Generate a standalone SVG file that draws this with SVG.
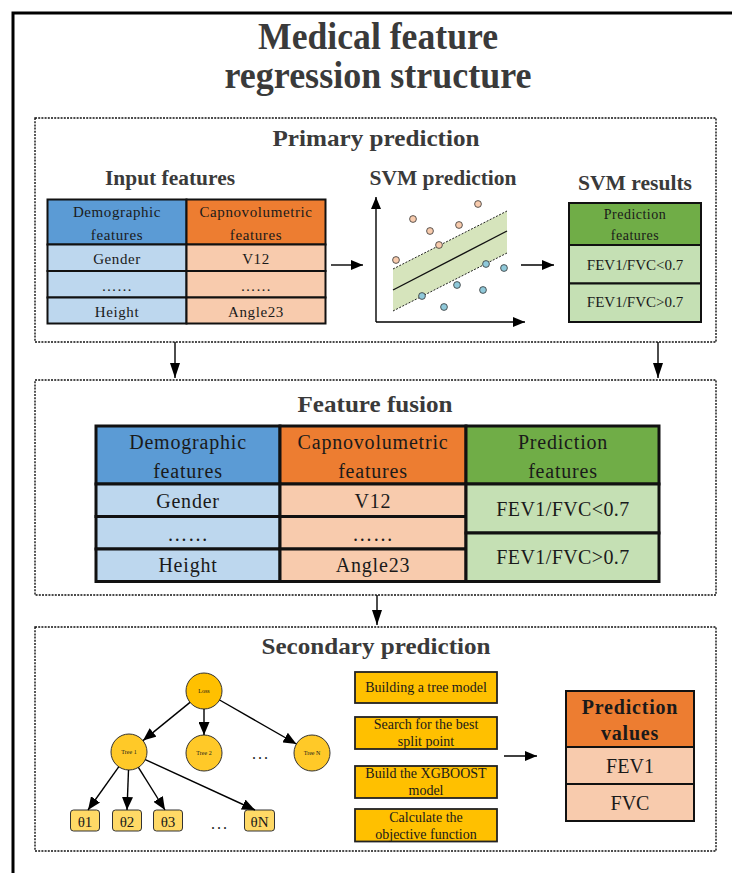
<svg xmlns="http://www.w3.org/2000/svg" width="732" height="873" viewBox="0 0 732 873">
<style>
text{font-family:"Liberation Serif","Times New Roman",serif;fill:#1a1a1a}
.title{font-weight:bold;fill:#3a3a3a;text-anchor:middle}
.sec{fill:none;stroke:#111;stroke-width:1.4;stroke-dasharray:2 1.2}
.c{text-anchor:middle}
.t1{font-size:15px;letter-spacing:0.6px}
.t2{font-size:20px;letter-spacing:0.8px}
.cell{stroke:#111;stroke-width:2}
.cellb{stroke:#111;stroke-width:3}
.ln{stroke:#000;stroke-width:1.4;fill:none}
.step{fill:#FFC000;stroke:#222;stroke-width:1.8}
.th{fill:#FFD966;stroke:#333;stroke-width:1}
.node{stroke:#333;stroke-width:1}
</style>
<defs>
<marker id="ah" markerUnits="userSpaceOnUse" markerWidth="12" markerHeight="10" refX="12" refY="5" orient="auto"><path d="M0,0 L12,5 L0,10 z" fill="#000"/></marker>
<marker id="ahv" markerUnits="userSpaceOnUse" markerWidth="15" markerHeight="10" refX="15" refY="5" orient="auto"><path d="M0,0 L15,5 L0,10 z" fill="#000"/></marker>
<marker id="aht" markerUnits="userSpaceOnUse" markerWidth="13" markerHeight="11" refX="13" refY="5.5" orient="auto"><path d="M0,0 L13,5.5 L0,11 z" fill="#000"/></marker>
</defs>
<rect width="732" height="873" fill="#fff"/>
<rect x="13" y="13" width="740" height="880" fill="none" stroke="#000" stroke-width="3"/>

<g id="title">
<text class="title" x="378" y="49" font-size="37" textLength="240" lengthAdjust="spacingAndGlyphs">Medical feature</text>
<text class="title" x="378" y="88" font-size="37" textLength="307" lengthAdjust="spacingAndGlyphs">regression structure</text>
</g>

<g id="primary">
<rect class="sec" x="35" y="118" width="681" height="224"/>
<text class="title" x="376" y="146" font-size="24" textLength="207" lengthAdjust="spacingAndGlyphs">Primary prediction</text>
</g>

<g id="input-features">
<text class="title" x="170" y="185" font-size="20" textLength="130" lengthAdjust="spacingAndGlyphs">Input features</text>
<rect class="cell" x="47.5" y="199.5" width="139" height="45" fill="#5B9BD5"/>
<rect class="cell" x="186.5" y="199.5" width="139" height="45" fill="#ED7D31"/>
<rect class="cell" x="47.5" y="244.5" width="139" height="26.5" fill="#BDD7EE"/>
<rect class="cell" x="47.5" y="271" width="139" height="26.5" fill="#BDD7EE"/>
<rect class="cell" x="47.5" y="297.5" width="139" height="26" fill="#BDD7EE"/>
<rect class="cell" x="186.5" y="244.5" width="139" height="26.5" fill="#F8CBAD"/>
<rect class="cell" x="186.5" y="271" width="139" height="26.5" fill="#F8CBAD"/>
<rect class="cell" x="186.5" y="297.5" width="139" height="26" fill="#F8CBAD"/>
<text class="c t1" x="117" y="217">Demographic</text>
<text class="c t1" x="117" y="240">features</text>
<text class="c t1" x="256" y="217">Capnovolumetric</text>
<text class="c t1" x="256" y="240">features</text>
<text class="c t1" x="117" y="264">Gender</text>
<text class="c t1" x="117" y="291">……</text>
<text class="c t1" x="117" y="317">Height</text>
<text class="c t1" x="256" y="264">V12</text>
<text class="c t1" x="256" y="291">……</text>
<text class="c t1" x="256" y="317">Angle23</text>
</g>

<g id="svm-prediction">
<text class="title" x="443" y="185" font-size="20" textLength="147" lengthAdjust="spacingAndGlyphs">SVM prediction</text>
<polygon points="393,269 507,211 507,253 393,311" fill="#D6E4BC"/>
<line x1="393" y1="269" x2="507" y2="211" stroke="#222" stroke-width="1" stroke-dasharray="2 1.5"/>
<line x1="393" y1="311" x2="507" y2="253" stroke="#222" stroke-width="1" stroke-dasharray="2 1.5"/>
<line x1="393" y1="290" x2="507" y2="231" stroke="#111" stroke-width="1.4"/>
<line x1="376" y1="322" x2="376" y2="197" stroke="#000" stroke-width="1.4" marker-end="url(#ah)"/>
<line x1="376" y1="322" x2="525" y2="322" stroke="#000" stroke-width="1.4" marker-end="url(#ah)"/>
<g fill="#F8CBAD" stroke="#333" stroke-width="0.8">
<circle cx="413" cy="219" r="3.4"/><circle cx="430" cy="231" r="3.4"/><circle cx="459" cy="225" r="3.4"/>
<circle cx="478" cy="204" r="3.4"/><circle cx="439" cy="245" r="3.4"/><circle cx="396" cy="260" r="3.4"/>
</g>
<g fill="#8FC9DA" stroke="#333" stroke-width="0.8">
<circle cx="486" cy="264" r="3.4"/><circle cx="504" cy="268" r="3.4"/><circle cx="457" cy="285" r="3.4"/>
<circle cx="483" cy="290" r="3.4"/><circle cx="422" cy="296" r="3.4"/><circle cx="444" cy="307" r="3.4"/>
</g>
</g>

<g id="svm-results">
<text class="title" x="635" y="190" font-size="20" textLength="114" lengthAdjust="spacingAndGlyphs">SVM results</text>
<rect class="cell" x="569" y="203" width="132" height="42" fill="#70AD47"/>
<rect class="cell" x="569" y="245" width="132" height="38.5" fill="#C5E0B4"/>
<rect class="cell" x="569" y="283.5" width="132" height="38.5" fill="#C5E0B4"/>
<text class="c" x="635" y="219" font-size="14" letter-spacing="0.5">Prediction</text>
<text class="c" x="635" y="240" font-size="14" letter-spacing="0.5">features</text>
<text class="c" x="635" y="270" font-size="15">FEV1/FVC&lt;0.7</text>
<text class="c" x="635" y="307" font-size="15">FEV1/FVC&gt;0.7</text>
</g>

<g id="fusion">
<rect class="sec" x="35" y="380" width="681" height="215"/>
<text class="title" x="375" y="412" font-size="24" textLength="155" lengthAdjust="spacingAndGlyphs">Feature fusion</text>
</g>

<g id="fusion-table">
<rect class="cellb" x="96" y="426" width="184" height="58" fill="#5B9BD5"/>
<rect class="cellb" x="280" y="426" width="186" height="58" fill="#ED7D31"/>
<rect class="cellb" x="466" y="426" width="193" height="58" fill="#70AD47"/>
<rect class="cellb" x="96" y="484" width="184" height="32.5" fill="#BDD7EE"/>
<rect class="cellb" x="96" y="516.5" width="184" height="32.5" fill="#BDD7EE"/>
<rect class="cellb" x="96" y="549" width="184" height="32.5" fill="#BDD7EE"/>
<rect class="cellb" x="280" y="484" width="186" height="32.5" fill="#F8CBAD"/>
<rect class="cellb" x="280" y="516.5" width="186" height="32.5" fill="#F8CBAD"/>
<rect class="cellb" x="280" y="549" width="186" height="32.5" fill="#F8CBAD"/>
<rect class="cellb" x="466" y="484" width="193" height="49" fill="#C5E0B4"/>
<rect class="cellb" x="466" y="533" width="193" height="48.5" fill="#C5E0B4"/>
<text class="c t2" x="188" y="449">Demographic</text>
<text class="c t2" x="188" y="478">features</text>
<text class="c t2" x="373" y="449">Capnovolumetric</text>
<text class="c t2" x="373" y="478">features</text>
<text class="c t2" x="563" y="449">Prediction</text>
<text class="c t2" x="563" y="478">features</text>
<text class="c t2" x="188" y="508">Gender</text>
<text class="c t2" x="188" y="541">……</text>
<text class="c t2" x="188" y="572">Height</text>
<text class="c t2" x="373" y="508">V12</text>
<text class="c t2" x="373" y="541">……</text>
<text class="c t2" x="373" y="572">Angle23</text>
<text class="c" x="563" y="516" font-size="20" letter-spacing="0.4">FEV1/FVC&lt;0.7</text>
<text class="c" x="563" y="564" font-size="20" letter-spacing="0.4">FEV1/FVC&gt;0.7</text>
</g>

<g id="secondary">
<rect class="sec" x="35" y="627" width="681" height="224"/>
<text class="title" x="376" y="654" font-size="24" textLength="229" lengthAdjust="spacingAndGlyphs">Secondary prediction</text>
</g>

<g id="tree">
<circle id="loss" class="node" cx="204" cy="691" r="18" fill="#FFC000"/>
<circle id="tree1" class="node" cx="129" cy="752" r="18" fill="#FFC928"/>
<circle id="tree2" class="node" cx="204" cy="753" r="18" fill="#FFC928"/>
<circle id="treeN" class="node" cx="312" cy="753" r="18" fill="#FFC928"/>
<text class="c" x="204" y="693" font-size="6">Loss</text>
<text class="c" x="129" y="754" font-size="6">Tree 1</text>
<text class="c" x="204" y="755" font-size="6">Tree 2</text>
<text class="c" x="312" y="755" font-size="6">Tree N</text>
<text class="c" x="261" y="759" font-size="16" letter-spacing="2">...</text>
<rect class="th" x="70.5" y="810" width="29" height="21" rx="3"/>
<rect class="th" x="112.5" y="810" width="29" height="21" rx="3"/>
<rect class="th" x="153.5" y="810" width="29" height="21" rx="3"/>
<rect class="th" x="244.5" y="810" width="30" height="21" rx="3"/>
<text class="c" x="85" y="827" font-size="15">θ1</text>
<text class="c" x="127" y="827" font-size="15">θ2</text>
<text class="c" x="168" y="827" font-size="15">θ3</text>
<text class="c" x="259.5" y="827" font-size="15">θN</text>
<text class="c" x="220" y="829" font-size="16" letter-spacing="2">...</text>
</g>

<g id="steps">
<rect class="step" x="355" y="672" width="142" height="31"/>
<rect class="step" x="355" y="717" width="142" height="32"/>
<rect class="step" x="355" y="766" width="142" height="32"/>
<rect class="step" x="355" y="809" width="142" height="32.5"/>
<text class="c" x="426" y="692" font-size="14">Building a tree model</text>
<text class="c" x="426" y="729" font-size="14">Search for the best</text>
<text class="c" x="426" y="746" font-size="14">split point</text>
<text class="c" x="426" y="778" font-size="14">Build the XGBOOST</text>
<text class="c" x="426" y="795" font-size="14">model</text>
<text class="c" x="426" y="822" font-size="14">Calculate the</text>
<text class="c" x="426" y="839" font-size="14">objective function</text>
</g>

<g id="prediction-values">
<rect class="cell" x="566" y="691" width="128" height="56" fill="#ED7D31"/>
<rect class="cell" x="566" y="747" width="128" height="37" fill="#F8CBAD"/>
<rect class="cell" x="566" y="784" width="128" height="37" fill="#F8CBAD"/>
<text class="c" x="630" y="714" font-size="20" font-weight="bold" letter-spacing="0.8">Prediction</text>
<text class="c" x="630" y="740" font-size="20" font-weight="bold" letter-spacing="0.8">values</text>
<text class="c" x="630" y="773" font-size="20">FEV1</text>
<text class="c" x="630" y="810" font-size="20">FVC</text>
</g>

<g id="connectors">
<line class="ln" x1="331" y1="265" x2="363" y2="265" marker-end="url(#ah)"/>
<line class="ln" x1="521" y1="265" x2="554" y2="265" marker-end="url(#ah)"/>
<line class="ln" x1="175" y1="342" x2="175" y2="378" marker-end="url(#ahv)"/>
<line class="ln" x1="658" y1="342" x2="658" y2="378" marker-end="url(#ahv)"/>
<line class="ln" x1="377" y1="595" x2="377" y2="625" marker-end="url(#ahv)"/>
<line class="ln" x1="504" y1="756" x2="537" y2="756" marker-end="url(#ah)"/>
<line class="ln" x1="190" y1="702.4" x2="143" y2="740.6" marker-end="url(#aht)"/>
<line class="ln" x1="204" y1="709" x2="204" y2="735" marker-end="url(#aht)"/>
<line class="ln" x1="219.6" y1="700" x2="296.4" y2="744" marker-end="url(#aht)"/>
<line class="ln" x1="118.7" y1="766.8" x2="88" y2="810" marker-end="url(#aht)"/>
<line class="ln" x1="128.5" y1="770" x2="127" y2="810" marker-end="url(#aht)"/>
<line class="ln" x1="138.4" y1="767.4" x2="165" y2="810" marker-end="url(#aht)"/>
<line class="ln" x1="145.3" y1="759.6" x2="255" y2="810" marker-end="url(#aht)"/>
</g>
</svg>
